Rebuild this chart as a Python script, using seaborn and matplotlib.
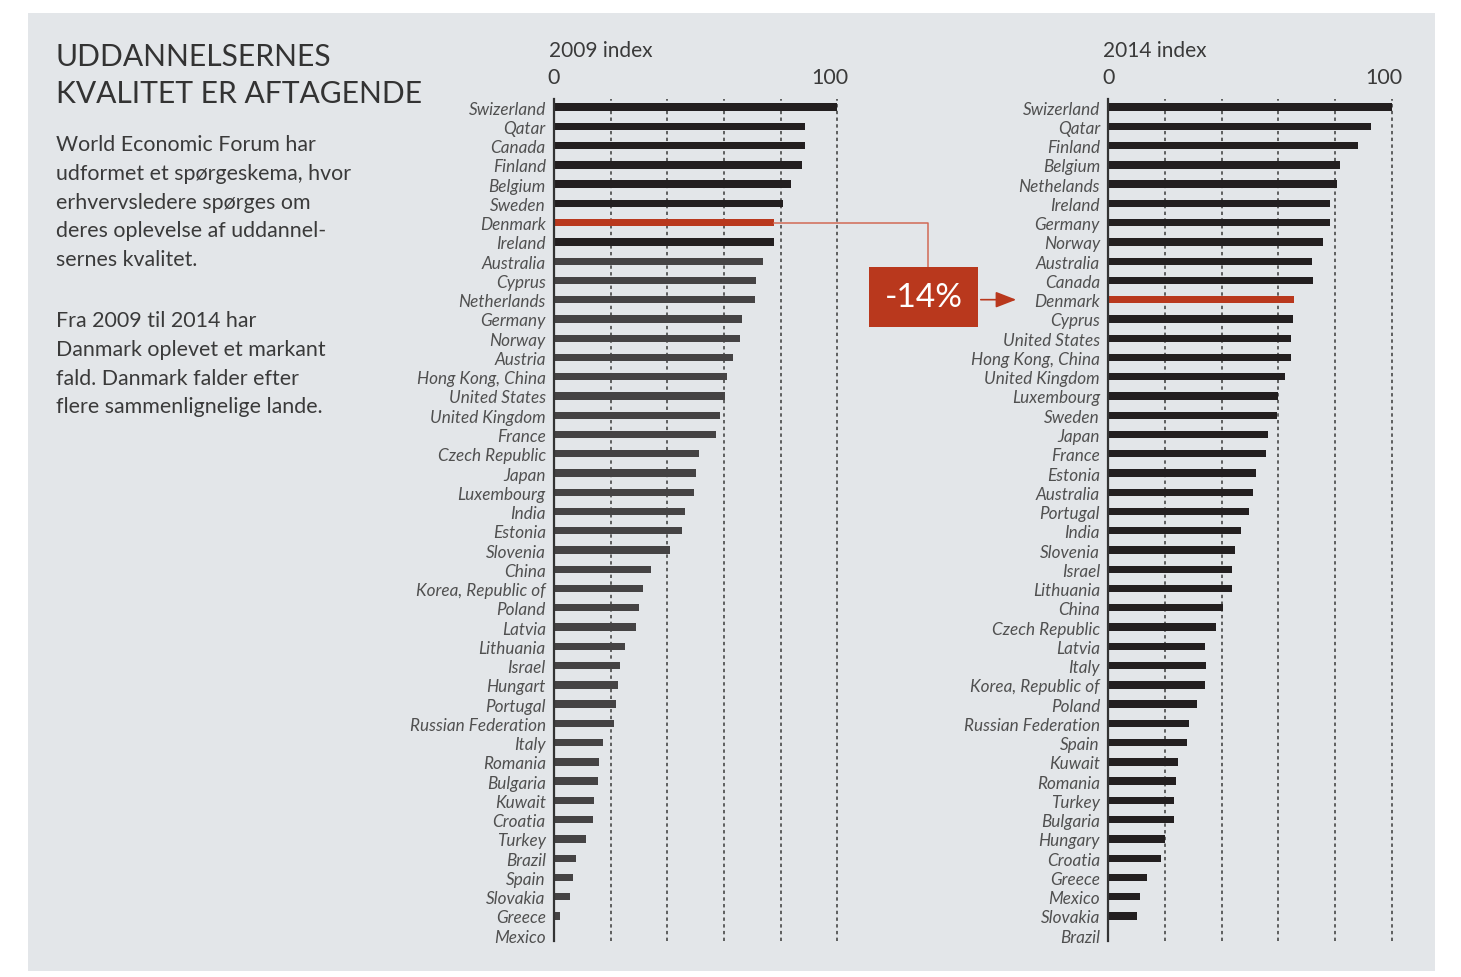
import matplotlib
matplotlib.use("Agg")
import matplotlib.pyplot as plt
from matplotlib.patches import Rectangle, FancyArrowPatch
from matplotlib.lines import Line2D
from matplotlib.transforms import offset_copy
import seaborn as sns
import pandas as pd

# ---------------- data ----------------
countries_2009 = ["Swizerland", "Qatar", "Canada", "Finland", "Belgium", "Sweden", "Denmark",
                  "Ireland", "Australia", "Cyprus", "Netherlands", "Germany", "Norway", "Austria",
                  "Hong Kong, China", "United States", "United Kingdom", "France", "Czech Republic",
                  "Japan", "Luxembourg", "India", "Estonia", "Slovenia", "China", "Korea, Republic of",
                  "Poland", "Latvia", "Lithuania", "Israel", "Hungart", "Portugal",
                  "Russian Federation", "Italy", "Romania", "Bulgaria", "Kuwait", "Croatia", "Turkey",
                  "Brazil", "Spain", "Slovakia", "Greece", "Mexico"]
values_2009 = [100, 88.7, 88.4, 87.6, 83.6, 80.9, 77.8, 77.8, 73.9, 71.4, 71.1, 66.5, 65.8, 63.0,
               61.2, 60.3, 58.4, 57.3, 51.0, 50.2, 49.5, 46.4, 45.0, 40.9, 34.4, 31.5, 30.1, 29.1,
               25.2, 23.4, 22.7, 22.0, 21.1, 17.2, 15.9, 15.4, 14.1, 13.7, 11.2, 7.7, 6.6, 5.5,
               2.0, 0.0]

countries_2014 = ["Swizerland", "Qatar", "Finland", "Belgium", "Nethelands", "Ireland", "Germany",
                  "Norway", "Australia", "Canada", "Denmark", "Cyprus", "United States",
                  "Hong Kong, China", "United Kingdom", "Luxembourg", "Sweden", "Japan", "France",
                  "Estonia", "Australia", "Portugal", "India", "Slovenia", "Israel", "Lithuania",
                  "China", "Czech Republic", "Latvia", "Italy", "Korea, Republic of", "Poland",
                  "Russian Federation", "Spain", "Kuwait", "Romania", "Turkey", "Bulgaria", "Hungary",
                  "Croatia", "Greece", "Mexico", "Slovakia", "Brazil"]
values_2014 = [100, 92.6, 88.0, 81.7, 80.6, 78.1, 78.1, 75.9, 72.0, 72.4, 65.7, 65.0, 64.3, 64.3,
               62.2, 59.9, 59.4, 56.5, 55.8, 52.0, 50.9, 49.8, 47.0, 44.6, 43.5, 43.5, 40.3, 37.9,
               34.0, 34.3, 34.0, 31.2, 28.5, 27.7, 24.6, 23.9, 23.2, 23.2, 20.0, 18.6, 13.7, 11.2,
               10.2, 0.0]

axis_ticks = [0, 100]
grid_values = [20, 40, 60, 80, 100]
panel_titles = ["2009 index", "2014 index"]
highlight = "Denmark"
change_label = "-14%"

title = "UDDANNELSERNES\nKVALITET ER AFTAGENDE"
body1 = ("World Economic Forum har\nudformet et spørgeskema, hvor\nerhvervsledere spørges om\n"
         "deres oplevelse af uddannel-\nsernes kvalitet.")
body2 = ("Fra 2009 til 2014 har\nDanmark oplevet et markant\nfald. Danmark falder efter\n"
         "flere sammenlignelige lande.")

# ---------------- style ----------------
FONT = "Lato"
BG = "#e3e6e9"
DARK = "#231f20"
GRAY = "#454344"
RED = "#b9381d"
LINK = "#d26a55"
LABEL = "#505050"
TXT = "#3a3a3a"

W, H = 1461, 978
fig = plt.figure(figsize=(W / 100, H / 100), dpi=100)
fig.patch.set_facecolor("white")

def fx(px):
    return px / W

def fy(py):
    return 1 - py / H

fig.add_artist(Rectangle((fx(28), fy(972)), fx(1435) - fx(28), fy(14) - fy(972),
                         transform=fig.transFigure, facecolor=BG, edgecolor="none", zorder=-10))

def panel(left_px, countries, values, colors, head):
    n = len(countries)
    keys = [str(i) for i in range(n)]
    df = pd.DataFrame({"key": keys, "value": values})
    pal = dict(zip(keys, colors))
    ax = fig.add_axes([fx(left_px), fy(942), fx(2.834 * 101), fy(100) - fy(942)])
    ax.set_facecolor("none")
    for g in grid_values:
        ax.axvline(g, color="#3a3a3a", lw=1.1, ls=(0, (2.2, 2.2)), zorder=0)
    sns.barplot(data=df, x="value", y="key", hue="key", palette=pal, order=keys,
                legend=False, orient="h", width=0.38, saturation=1, ax=ax, zorder=2)
    ax.set_xlim(0, 101)
    ax.set_ylim(n - 1 + 0.3, -0.42)
    ax.set_yticks(range(n))
    ax.set_yticklabels(countries, fontfamily=FONT, fontstyle="italic", fontweight="normal",
                       fontsize=12.3, color=LABEL)
    ax.xaxis.tick_top()
    ax.set_xticks(axis_ticks)
    ax.set_xticklabels([])
    tr = ax.get_xaxis_transform()
    for t, dx in zip(axis_ticks, [0, -8]):
        ax.text(t, 1.0, str(t), transform=offset_copy(tr, fig=fig, x=dx, y=12, units="dots"),
                fontfamily=FONT, fontsize=15.5, color=TXT, ha="center", va="bottom")
    ax.tick_params(axis="both", length=0)
    ax.tick_params(axis="y", pad=6)
    ax.set_xlabel("")
    ax.set_ylabel("")
    for s in ["top", "right", "bottom"]:
        ax.spines[s].set_visible(False)
    ax.spines["left"].set_color("#333333")
    ax.spines["left"].set_linewidth(1.6)
    ax.spines["left"].set_zorder(3)
    fig.text(fx(left_px - 5), fy(51), head, fontfamily=FONT, fontweight="normal", fontsize=15,
             color=TXT, ha="left", va="center")
    return ax

colors_2009 = [RED if c == highlight else (DARK if i < 8 else GRAY)
               for i, c in enumerate(countries_2009)]
colors_2014 = [RED if c == highlight else DARK for c in countries_2014]

ax1 = panel(554, countries_2009, values_2009, colors_2009, panel_titles[0])
ax2 = panel(1108.3, countries_2014, values_2014, colors_2014, panel_titles[1])

# ---------------- text block ----------------
fig.text(fx(56), fy(43), title, fontfamily=FONT, fontweight="normal", fontsize=21.6,
         color="#333333", ha="left", va="top", linespacing=1.4)
fig.text(fx(56), fy(135), body1, fontfamily=FONT, fontweight="normal", fontsize=15.4,
         color=TXT, ha="left", va="top", linespacing=1.55)
fig.text(fx(56), fy(311), body2, fontfamily=FONT, fontweight="normal", fontsize=15.4,
         color=TXT, ha="left", va="top", linespacing=1.55)

# ---------------- annotation ----------------
i09 = countries_2009.index(highlight)
i14 = countries_2014.index(highlight)
inv = fig.transFigure.inverted()
start = inv.transform(ax1.transData.transform((values_2009[i09], i09)))
row14 = inv.transform(ax2.transData.transform((0, i14)))
box_l, box_r, box_t, box_b = 869, 978, 268, 328
elbow_x = fx(928)
fig.add_artist(Line2D([start[0], elbow_x, elbow_x], [start[1], start[1], fy(box_t)],
                      transform=fig.transFigure, color=LINK, lw=1.1, zorder=5))
fig.add_artist(Rectangle((fx(box_l), fy(box_b)), fx(box_r) - fx(box_l), fy(box_t) - fy(box_b),
                         transform=fig.transFigure, facecolor=RED, edgecolor="none", zorder=6))
fig.text((fx(box_l) + fx(box_r)) / 2, (fy(box_t) + fy(box_b)) / 2, change_label,
         fontfamily=FONT, fontweight="normal", fontsize=24, color="white",
         ha="center", va="center", zorder=7)
fig.add_artist(FancyArrowPatch(
    (fx(box_r), row14[1]), (fx(1019), row14[1]), transform=fig.transFigure,
    arrowstyle="-|>,head_length=0.9,head_width=0.35", mutation_scale=14,
    color=RED, lw=1.2, zorder=6))

fig.savefig("out.png", dpi=100, facecolor="white")
